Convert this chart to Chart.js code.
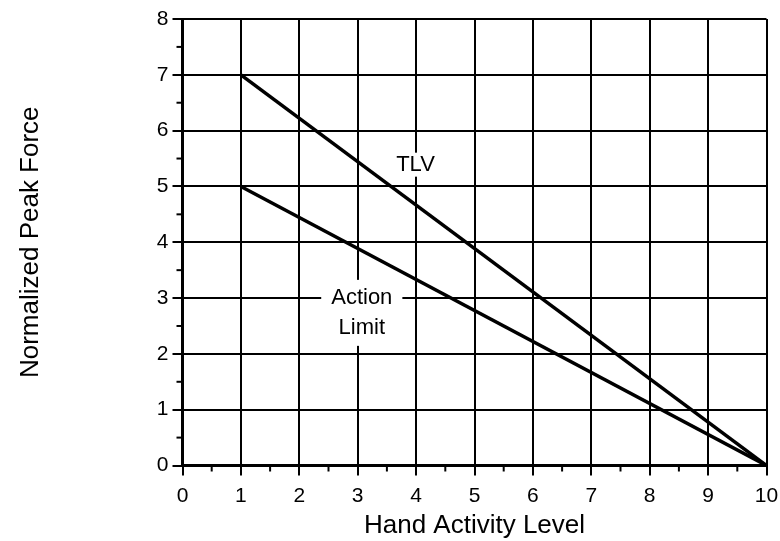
<!DOCTYPE html>
<html>
<head>
<meta charset="utf-8">
<script src="https://cdn.jsdelivr.net/npm/chart.js@4.4.1/dist/chart.umd.min.js"></script>
<style>
html,body{margin:0;padding:0;background:#fff;}
#wrap{width:780px;height:541px;position:relative;}
</style>
</head>
<body>
<div id="wrap"><canvas id="c" width="780" height="541"></canvas></div>
<script>
// ---- data ----
const handActivity = [1, 10];
const tlvForce = [7, 0];
const actionLimitForce = [5, 0];
const xTicks = [0,1,2,3,4,5,6,7,8,9,10];
const yTicks = [0,1,2,3,4,5,6,7,8];
const seriesNames = ['TLV', 'Action Limit'];
const labelTexts = [['TLV'], ['Action', 'Limit']];
const labelX = [3.99, 3.07];
const labelY = [5.39, 2.735];

const FONT = "'Liberation Sans', Arial, sans-serif";

const minorTicks = {
  id: 'minorTicks',
  afterDraw(chart) {
    const ctx = chart.ctx;
    const xs = chart.scales.x, ys = chart.scales.y;
    ctx.save();
    ctx.strokeStyle = '#000';
    ctx.lineWidth = 2;
    for (let i = 0; i < xTicks.length - 1; i++) {
      const v = (xTicks[i] + xTicks[i+1]) / 2;
      const px = xs.getPixelForValue(v);
      ctx.beginPath();
      ctx.moveTo(px, ys.bottom);
      ctx.lineTo(px, ys.bottom + 6);
      ctx.stroke();
    }
    for (let i = 0; i < yTicks.length - 1; i++) {
      const v = (yTicks[i] + yTicks[i+1]) / 2;
      const py = ys.getPixelForValue(v);
      ctx.beginPath();
      ctx.moveTo(xs.left, py);
      ctx.lineTo(xs.left - 6, py);
      ctx.stroke();
    }
    ctx.restore();
  }
};

const textBoxes = {
  id: 'textBoxes',
  beforeDatasetsDraw(chart) {
    const ctx = chart.ctx;
    const xs = chart.scales.x, ys = chart.scales.y;
    ctx.save();
    ctx.font = '22px ' + FONT;
    ctx.textAlign = 'center';
    ctx.textBaseline = 'middle';
    const lh = 30;
    labelTexts.forEach((lines, i) => {
      const cx = xs.getPixelForValue(labelX[i]);
      const cy = ys.getPixelForValue(labelY[i]);
      let w = 0;
      lines.forEach(l => { w = Math.max(w, ctx.measureText(l).width); });
      const h = lines.length * lh;
      ctx.fillStyle = '#fff';
      if (lines.length === 1) {
        ctx.fillRect(cx - w/2 - 4, cy - 12, w + 8, 24);
      } else {
        ctx.fillRect(cx - w/2 - 10, cy - h/2 - 3, w + 20, h + 6);
      }
      ctx.fillStyle = '#000';
      lines.forEach((l, k) => {
        ctx.fillText(l, cx, cy - h/2 + lh/2 + k*lh);
      });
    });
    ctx.restore();
  }
};

new Chart(document.getElementById('c'), {
  type: 'line',
  data: {
    datasets: [
      {
        label: seriesNames[0],
        data: handActivity.map((x, i) => ({x: x, y: tlvForce[i]})),
        borderColor: '#000', borderWidth: 3.5, pointRadius: 0, fill: false, tension: 0
      },
      {
        label: seriesNames[1],
        data: handActivity.map((x, i) => ({x: x, y: actionLimitForce[i]})),
        borderColor: '#000', borderWidth: 3.5, pointRadius: 0, fill: false, tension: 0
      }
    ]
  },
  options: {
    responsive: false,
    animation: false,
    devicePixelRatio: 1,
    layout: { padding: { left: 0, right: 13.5, top: 19, bottom: 0 } },
    plugins: { legend: { display: false }, tooltip: { enabled: false } },
    scales: {
      x: {
        type: 'linear', min: 0, max: 10,
        afterFit(s) { s.height = 75.5; s.paddingLeft = 0; s.paddingRight = 0; },
        afterBuildTicks(s) { s.ticks = xTicks.map(v => ({value: v})); },
        ticks: { color: '#000', font: { family: FONT, size: 21 }, padding: 8, maxRotation: 0, autoSkip: false },
        grid: { color: '#000', lineWidth: 2, tickLength: 10, drawTicks: true },
        border: { color: '#000', width: 3 },
        title: { display: true, text: 'Hand Activity Level', color: '#000', font: { family: FONT, size: 26 }, padding: { top: 0, bottom: 0 } }
      },
      y: {
        type: 'linear', min: 0, max: 8,
        afterFit(s) { s.width = 182.5; s.paddingTop = 0; s.paddingBottom = 0; },
        afterBuildTicks(s) { s.ticks = yTicks.map(v => ({value: v})); },
        ticks: { color: '#000', font: { family: FONT, size: 21 }, padding: 4, autoSkip: false },
        grid: { color: '#000', lineWidth: 2, tickLength: 10, drawTicks: true },
        border: { color: '#000', width: 3 },
        title: { display: true, text: 'Normalized Peak Force', color: '#000', font: { family: FONT, size: 26 }, padding: { top: 15, bottom: 0 } }
      }
    }
  },
  plugins: [textBoxes, minorTicks]
});
</script>
</body>
</html>
